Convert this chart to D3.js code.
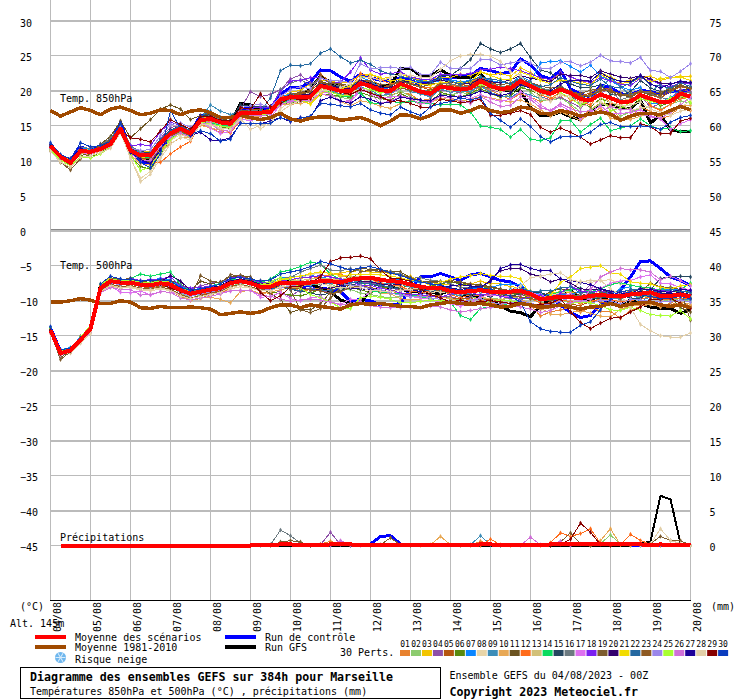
<!DOCTYPE html>
<html>
<head>
<meta charset="utf-8">
<script src="https://cdnjs.cloudflare.com/ajax/libs/d3/7.8.5/d3.min.js"></script>
<style>
body { margin: 0; background: white; }
text { font-family: "DejaVu Sans Mono", monospace; font-size: 10px; fill: black; }
</style>
</head>
<body>
<svg id="drawing"></svg>
<script>
const dates = ["04/08","05/08","06/08","07/08","08/08","09/08","10/08","11/08","12/08","13/08","14/08","15/08","16/08","17/08","18/08","19/08","20/08"];
const ticksC = [30,25,20,15,10,5,0,-5,-10,-15,-20,-25,-30,-35,-40,-45];
const ticksMm = [75,70,65,60,55,50,45,40,35,30,25,20,15,10,5,0];
const numeros = ["01","02","03","04","05","06","07","08","09","10","11","12","13","14","15","16","17","18","19","20","21","22","23","24","25","26","27","28","29","30"];
const couleurs = ["#e8822f","#8ccb6e","#f2c500","#8e50a8","#b55610","#5a8a0e","#0a86ff","#e8d5a8","#3c8db8","#e8a855","#6b5320","#ff6b1a","#d2c078","#0adb5f","#24465f","#6c7a80","#de70f0","#7a1ff0","#7d5c2e","#33006e","#f2dc00","#2468a0","#8e5a22","#9b86ea","#a8ff32","#d070d8","#1c0099","#e2cfa8","#860000","#0a3cbe"];

// 850 hPa
const moy850 = [12.1,10.6,9.7,11.4,11.3,11.7,12.4,14.6,11.5,10.8,10.8,12.6,13.9,14.6,13.9,15.8,16,15.5,15.3,16.9,16.9,16.9,17,18.8,19.1,19.1,19.2,20.7,20.4,20,20,21.1,20.7,20.1,20,21,20.5,19.9,19.6,20.6,20.4,20.2,20.4,21.4,20.7,20.3,20.4,21.4,20.7,20,19.6,20.2,19.7,18.8,18.7,19.5,19,18.4,18.5,19.4,18.9,18.4,18.5,19.6,19.2];
const clim850 = [17.2,16.4,17,17.6,17.2,16.6,17.4,17.7,17.2,16.6,16.8,17.3,17.2,16.6,17.1,17.3,16.9,16.2,16.2,16.5,16.2,15.9,16.2,16.8,16,15.7,16.1,16.3,16.3,15.8,16,16.2,15.7,15,15.7,16.6,16.5,16,16.5,17.3,17.3,16.8,17.2,17.8,17.2,16.9,17.1,17.7,17.5,16.8,16.7,17.2,16.9,16.4,16.7,17,16.7,15.8,16.4,16.8,16.8,16.6,17.2,17.8,17.3];
const ctrl850 = [12.4,10.3,10,12,11.5,12,12.7,15.5,11.5,10,9.5,11.5,13.5,15,14,16.5,16.7,16,15.5,17.5,17.5,17.3,17.5,19.5,20.5,20.5,21.3,23,22.9,22,21.4,22.4,21.9,21.5,21.4,21.9,21.5,21,21.3,21.9,21.8,22.1,22.2,23.2,22.9,22.5,22.7,24.6,23.7,22.2,21.7,23,20.3,19.6,19.1,20.8,20.5,19.6,19.4,20.1,19.9,19.5,19.9,20,20.1];
const gfs850 = [12,10.2,9.8,11.5,11.2,11.6,12.5,14.9,11.2,10.3,10.2,12.5,14,14.8,14,16,16.2,15.6,15.4,18.2,18,17.2,17,18.5,19.2,19.5,20.2,22.2,21.2,20.8,20.6,21.5,21,20.8,20.8,23.2,23.2,22.2,22.2,23,22.2,21.9,21.9,22.5,20.5,20.2,20,20,17.7,16.5,16.5,17,16.3,15.9,17,18.1,18,17.6,17.5,18.7,15.4,16.6,14.4,14.2,14.2];
const t850_p01 = [11.8,10.4,9.9,11.2,11,11.5,12.2,14.4,11,10.2,10,11.6,12.9,13.8,13.3,15.2,14.8,14,14,16,16.5,16.5,16.9,18.4,18.7,19,18.9,20.1,20,19.6,19.4,21.2,21.9,20.6,19.4,19.8,19.5,18.6,18.9,20.5,20.6,20.2,19.6,20.6,20.1,19.4,18.8,19.6,19.1,18.5,18.8,19.3,18,16.2,17.3,18.3,17.9,15.9,16,17.7,17.1,16,16.5,17.8,17.2];
const t850_p02 = [12,10.5,9.6,11.6,11.2,11.7,12.3,14.5,11.3,10.4,10.5,12,13.2,14.2,13.5,15.5,15.7,15,14.9,16.7,17,17,17.2,18.2,18.3,18.5,18.4,19.5,19.3,19.1,18.8,20.1,19.8,19.4,19.2,20,19.2,18.5,18.2,19.5,19.4,19.8,19.5,20.3,19.6,19.1,19.5,20.9,19.8,18.7,18.6,19,18.1,17,17.2,18.2,17.7,16.4,17,17.5,17.8,17.4,18.1,18.6,18.2];
const t850_p03 = [12.2,10.7,10,11.8,11.5,12,12.5,14.7,11.8,11.3,11.3,13,14.2,14.9,14.1,16.1,16.3,15.8,15.4,17.1,17.2,17,17.1,19,19.8,20.1,21,21.5,21.4,21.1,21.3,22.3,22.3,21.8,21.9,22.4,21.9,21.5,21.6,22,21.9,22.4,22.2,22.8,22.3,22.5,22.1,23.3,22.6,21.7,21.3,22.6,22,21.4,20.9,22.4,21.5,21.1,21.2,21.9,22.1,21.5,21.9,22.1,22.1];
const t850_p04 = [11.9,10.5,9.9,11.3,11.1,11.6,12.3,14.6,11.7,11.2,11.1,13.2,14.8,15,14.2,16.2,16,15.7,15.2,17.4,19.9,19.2,19.5,20.2,21.7,22.3,21.1,21.4,20.6,20.2,20.6,21,20.4,19.8,19.6,20.4,20.1,19.6,19.3,20.1,19.9,19.8,20.1,20.8,20.2,19.8,20.2,20.9,20.4,19.2,18.7,19.1,18.4,17.6,18.6,19.6,20.5,18.4,18.9,19.4,17.6,18.2,18.9,20.2,19.9];
const t850_p05 = [12,10.4,9.5,11.2,11.2,11.9,12.6,15,11.8,11,10.9,12.8,14.3,14.7,13.8,15.9,16.3,15.8,15.4,17.5,17.4,17.3,17.2,19.2,19.5,19.7,19.8,22.4,21.3,20.9,20.5,21.6,21.2,20.5,20.7,21.3,21,20.6,20.1,21.2,20.8,20.6,20.9,21.6,21,20.4,20.9,21.8,21.2,20.1,19.8,20.5,20,19.3,19.7,20.5,20.2,19.4,19.5,20,19.4,19,19.9,20.6,20.4];
const t850_p06 = [11.7,10.1,9.5,11.1,10.6,11.2,12,14.2,10.6,9.2,8.8,11,13,14.1,13.2,15.4,15.5,14.9,14.5,16.4,16.5,16.4,16.6,18.1,18.2,18.5,18.9,19.4,19.5,19.2,19.1,19.8,19.3,18.9,18.7,19.6,19,18.7,18.4,19.8,19.4,19.1,19.7,20.3,19.7,19.1,19.3,20.5,20.1,19.4,19,19.6,19.2,18.2,17.7,18.9,18.4,17.6,17.5,18.8,18.6,17.9,18.3,19.1,19];
const t850_p07 = [12.3,10.8,10.2,11.9,11.6,12,12.8,15,11.8,11.1,10.9,13,14.1,14.6,13.9,16,16.1,15.6,15.2,17.1,17,17,17.3,19.1,19.6,19.2,19.1,21,20.5,20.4,20.2,22,21.4,20.5,20.2,20.8,21.1,21.5,21.2,21.4,21.6,21.3,21.5,22,21.5,21.2,21.1,22.1,21.4,24,24.2,24.3,23.5,22.7,23.7,22.1,21.5,20.6,20.1,20.5,18.2,18.3,19.1,19.7,18.9];
const t850_p08 = [11.5,9.9,9,10.6,10.4,11,11.9,14.1,10.3,7.5,8.5,10.7,12.9,13.8,13.2,15.3,15.1,14.6,14,16,15.9,14.6,15.4,17.5,18.4,19.1,19.8,20.6,20.6,20.1,19.6,20.5,20.1,19.8,20,20.9,20.4,19.9,20,21.5,20.7,20.4,20.1,21.2,20.3,19.9,20.3,21,20.6,20.1,18.9,19.6,19.2,17.8,18.1,18.5,17.5,18.2,17.2,17.6,17.8,17.2,16.9,17.6,18.6];
const t850_p09 = [12,10.6,9.8,11.4,11.1,11.6,12.4,14.5,11.4,10.6,10.7,12.7,13.8,14.4,13.5,16.1,18,17.1,16.6,17.1,16.9,16.9,17,18.5,18.6,18.9,19.4,20.9,20.1,19.5,19.7,20.6,20.1,19.3,19.6,20.7,19.9,19.6,19.1,20.3,19.8,20,19.9,20.7,19.8,19.3,19.1,19.9,19.4,18.9,19.5,20.3,19.6,18,18.9,20.1,22,20.6,19.4,19.7,19.8,21,20,19.6,19.5];
const t850_p10 = [11.6,10.2,9.7,11.1,10.9,11.4,12.1,14.3,10.9,9.6,9.4,11.3,12.5,13.3,13.4,15.1,14.7,14.4,14.2,16.3,16.4,16.4,16.7,18,18.1,18.2,18.5,19.6,19.2,18.5,17.9,18.6,18.3,17.8,17.5,18.2,18.7,18.1,18.4,18.9,18.8,18.5,18.8,19.2,19,18.7,18.4,18.7,18.1,17.3,16.4,17,16.4,15.8,16.7,17.6,16.1,15.8,15.9,16.4,16.8,16.3,17.2,18,17.9];
const t850_p11 = [11.5,9.8,9,10.7,11.2,12.4,13.5,15.7,13.3,14.6,15.9,17.4,18,17.4,15.9,16.5,16.7,16.1,15.7,17,17,16.8,17.1,18.9,19.2,19.5,19.9,21.4,20.9,20.4,20.2,21.1,20.5,20,19.9,20.8,20.3,20,19.5,20.6,20.2,20.2,20.7,21.6,20.9,20.6,20.7,21.8,21,20.4,19.9,20.6,20,19,19.3,20,20.1,19.5,19.1,19.9,19.4,19.5,20.5,19.8,20.6];
const t850_p12 = [12.1,10.5,9.8,11.4,11.2,11.8,12.5,14.7,11.2,10.5,9.8,9.8,11,12,12.8,15.4,15.6,14.2,14,15.8,16.2,16.8,17.2,19.1,19.3,19.5,19.4,20.8,20.5,20.1,20.5,22.5,22,21.6,21,21.4,21.2,20.6,20.4,20.5,20.8,20.7,21.3,21.9,21.3,20.5,20.5,21.2,20.7,19.5,18.9,19.9,18.7,18.5,18,19.9,18.2,18.1,18.6,19.8,17.9,17.2,18.1,18.9,19.1];
const t850_p13 = [12,10.7,9.9,11.5,11.3,11.9,12.4,14.6,11.4,10.7,10.9,12.9,14.3,14.8,14,16,16.2,15.4,15.1,16.9,16.8,17,17.1,18.7,19,19.2,19.5,20.3,20.2,19.9,19.6,20.9,20.5,20.3,20,20.8,20.6,20.1,19.8,20.7,20.1,20.2,20.3,21,20.7,20.2,20.5,21.2,20.4,19.6,19.4,20,19.4,18.6,19,19.5,19.1,18.5,18.9,19.2,19,18.6,18.8,19.2,19.5];
const t850_p14 = [11.9,10.5,9.7,11.3,11.1,11.7,12.4,14.5,11.2,10.3,10.6,12.1,13.3,14,13.6,15.6,15.4,15.1,15,16.6,16.7,16.6,16.8,18.3,18.6,18.8,18.8,20,19.9,19.3,19.2,19.7,18.3,18.2,18.5,18.3,18.5,18.3,18.2,18,18.1,18,17,15,14.8,14.5,13.4,14.5,13.1,12.9,13.3,15.7,15.8,14.1,15.2,16.1,14.3,14.7,15,16,15,14.5,14.7,14.2,14.3];
const t850_p15 = [12.2,10.7,10.1,11.6,11.4,12,12.8,15,11.8,11.3,11.2,13.1,14.4,15,14.2,16.4,16.6,16.1,16,18,17.8,17.7,17.8,18.5,19,19.4,19.5,21.2,20.8,20.6,20.6,21.3,20.8,20.3,20.6,21.7,21,20.8,21.1,22.2,22.2,23.2,24.5,26.8,26,25.5,26,26.8,24.8,23,22.6,21.5,21,20.5,20.5,20.9,19.5,19.4,19.9,21.5,20.4,19.9,20.1,20.8,20.5];
const t850_p16 = [12.3,10.8,10.2,11.9,11.8,12.3,13.2,15.2,12.2,11.2,10.8,12.4,14.1,14.7,14.1,16.2,16.5,15.9,15.7,17.1,17.2,17.1,17.4,20.2,21.1,21.6,20.8,21.9,21.2,20.6,20.3,21.4,20.9,20.3,20.1,21,20.6,20.1,20,21,21,20.7,20.6,21.7,21,20.6,20.6,21.9,21.1,20.4,20.1,20.8,19.8,19.2,19.4,20.3,19.9,18.7,19.2,20.1,19.6,19.1,18.7,19.8,19.7];
const t850_p17 = [11.8,10.3,9.6,11.2,11,11.5,12.1,14.2,11,10.1,10.1,12,13.7,14.4,13.8,15.5,14.7,13.9,14.2,15.9,15.8,16,16.2,18,18.6,18.7,18.6,19.7,19.2,18.5,18.4,20.1,19.7,19,19.1,19.3,19,18.6,18.3,19.4,19.2,19.3,18.9,19.5,18.9,18.5,18.8,19.9,19.1,18,17.1,17.9,17.1,16,16.9,17.9,16.8,16.8,16.9,17.3,16.5,16,14.5,15.3,15.9];
const t850_p18 = [12.1,10.6,9.9,11.4,11.3,11.8,12.5,14.8,12.2,12.3,12.2,14.2,15.5,15.1,14.2,16,16.2,15.8,15.5,17,17.5,17.7,17.7,19.9,21.4,21.5,21.9,22,21,21.3,22.7,24.7,23,22.4,22.5,22.7,22,21.7,21.6,22.4,22.3,22.3,22.5,23,23.1,23.4,23.2,22.9,22.4,21.9,21.6,22.6,22,21.5,21.2,21.9,21.4,21,20.8,21.8,21.6,20.9,20.6,21.2,21];
const t850_p19 = [11.4,9.8,8.7,10.3,11,12.2,13,14.9,11.3,10.2,9.8,11.9,13.5,14.3,13.6,15.9,16.2,15.5,15.3,17.2,17.1,17.1,17.4,18.8,19.5,19.8,20.2,22.1,21,21,20.7,21.6,21.4,20.9,20.8,21.4,21,20.5,21,21.1,21.3,20.9,21.2,21.7,21.1,20.9,21.1,21.8,21.2,20.7,20.4,20.5,19.9,19.6,20.1,20.3,19.9,19.3,19.6,19.8,19.6,19.8,20.4,20.9,20.4];
const t850_p20 = [12,10.6,9.8,11.5,11.3,11.8,12.5,14.7,11.6,10.7,10.6,12.8,14.4,14.9,13.9,16.1,16.1,15.6,15.4,16.8,16.9,17,17.1,18.9,19.4,19.4,19.6,20.9,20.8,20.4,20.3,21.6,21,20.6,20.4,21.2,21.4,21,21.2,21.6,21.2,21.2,21,21.8,21.3,21.2,21.6,22.2,21.8,21.6,21.3,22.4,22.2,22.2,21.9,22.9,22.4,22,21.8,22.2,21.7,21.1,21,21.3,21.2];
const t850_p21 = [12.2,10.7,10.1,11.7,11.5,11.9,12.6,14.8,11.4,10.5,10.3,12.2,13.7,14.6,14,15.9,16,15.4,15.3,17,17.1,17.1,17.3,18.8,19,18.7,18.1,19.6,20.4,20.3,20.7,21.9,22.4,21.9,21.4,21.7,21.4,21,20.8,21.2,21.3,21.2,21.3,22.7,22.2,21.7,21.6,22.7,22.2,21.5,21,21.6,21.4,21.1,20.7,22.6,22,21.3,21.5,22,21.3,21.8,21.9,22,21.5];
const t850_p22 = [12.1,10.6,9.9,11.5,11.4,11.9,12.6,14.8,11.7,11,11.1,13,14.3,15,14.3,16.4,17.1,16.2,16,17,17.1,17.1,19,22.9,23.7,23.6,23.9,25.4,26,24.9,24,24.4,23.8,22.9,22.4,22.1,21.8,21.4,21.3,21.8,21.4,21,21.5,22,21.7,21.5,21,21.7,21.1,20.6,20.9,21.9,21.4,20.9,20.8,21.7,20.6,20.5,21.1,22.1,20.9,20.7,20.4,21.2,20.6];
const t850_p23 = [11.9,10.4,9.7,11.2,11.2,11.7,12.3,14.4,11.1,10.4,10.4,12.3,13.6,14.2,13.6,15.7,15.9,15.3,15.2,16.8,16.7,16.7,16.9,18.6,19.3,19.6,20,21.3,20.7,20.2,20,21.1,20.3,19.9,20.2,20.4,20.1,19.8,20.1,20.9,20.7,20.3,20.4,20.7,20.4,20.2,20,21,20.5,20.1,19.7,20.2,19.9,19.2,19.5,20,20,19.6,19.2,19.9,19.9,19.3,20.1,20.7,20.3];
const t850_p24 = [12.1,10.7,10,11.6,11.4,11.8,12.5,14.7,11.8,11.5,11.6,13.6,15.2,15.4,14.8,15.9,15.9,15.2,15.5,17.6,17.9,18.1,17.7,19.2,20.2,20.6,20.3,21.8,21.5,21.4,21.2,23.9,23.2,23.3,23.4,23.2,23.4,22.3,22.3,24.1,23.2,23.2,23.2,24.5,24.5,23.7,24,24.3,24,23.2,23.2,24.1,24.2,23.6,24.1,25.1,24.3,24.2,24,24.8,22.9,22.8,21.9,22.8,23.9];
const t850_p25 = [11.6,10.1,9.3,10.6,10.4,11,12,14.3,10.9,8.6,9.2,11.2,13.1,14,13.3,15.5,15.3,15,14.7,16.4,16.6,16.6,16.8,18.2,18.4,18.9,19,20,19.8,19.4,19.4,20.4,20.2,19.7,19.8,20.6,20.4,20,19.9,20.5,20.3,20.1,20.4,20.9,20.6,20.1,20.5,21.3,20.9,20.2,19.6,19.8,18.9,18,18.7,19.3,17.1,17.6,18.3,18.9,18.5,18.2,19,19.5,18.3];
const t850_p26 = [11.8,10.3,9.8,11.3,11.1,11.6,12.2,14.4,11.3,10,10.1,12.1,13.4,14,13.4,15.3,15.5,14.2,14.5,16.3,16.4,16.5,16.6,18.1,18.4,18.6,18.8,20,19.6,18.5,18.6,20.5,19.6,18.2,18.6,19.1,18.9,18.1,18.5,19.2,19,18.6,18.2,19.2,18.4,17.8,17.9,19.2,18.8,17.6,17.2,18.2,17.5,17,17.2,17,17.8,17.3,17.4,16.7,16.3,16.1,16.9,18,19.1];
const t850_p27 = [12.3,10.7,10.3,11.8,11.3,11.8,12.3,14.4,11.2,10.2,9.6,11.6,14,14.5,13.6,14.1,13,12.9,13.3,15.4,15.3,15.3,15.7,16.2,15.6,16.2,16.2,18.6,19.1,18.6,18.2,19.2,18.8,18.2,18.4,19.1,18.9,18.7,18.6,19.4,19.2,19.1,19.4,20,19.6,19.3,19.7,20.9,20.4,19.9,20,21,21.5,21.5,21.4,22.6,21.8,21.4,21.3,22.2,21,20.4,21,21.4,21.2];
const t850_p28 = [11.4,9.8,9.1,10.5,10.7,11.2,11.8,14,10.5,7,8.1,10.4,12.4,13.4,13,15.3,15.2,14.7,14.5,16,14.5,15.1,15.4,17,18,18.7,18.8,20,20,20.5,21,21.8,22,21.5,21.9,22.4,22.2,22,21.9,23.1,24.3,25,25.2,25.2,25,24.2,22.7,22.2,20.5,19,18.5,19.4,19,18.3,18.9,19.1,18.4,17.9,18,18.4,17.4,16.9,16.5,17.1,17.4];
const t850_p29 = [12,10.5,9.9,11.4,11.3,11.7,12.4,14.5,13.3,13.1,12.7,14.3,15.9,15.2,14.5,16.3,16.4,15.8,15.7,17.6,17.4,19.6,17.7,18.2,19,18.7,18.9,20.6,20.2,19.8,19.5,20.2,19.7,19.2,18.5,18.6,18.2,17.7,17.7,18.8,18.6,18.3,18.5,18.8,16.5,16.5,16.8,17.2,16.6,14.8,14.1,14.7,14.1,13.4,12.4,13,13.6,13.3,13.3,15.3,14.9,13.9,13.9,15.7,16.1];
const t850_p30 = [12.6,10.9,10.3,12.6,12,12.2,12.8,15.4,11.9,9.8,9,11,17.2,14.6,13.8,14.3,13.9,12.8,13.1,15.4,15.3,15.3,15.4,16.2,15.7,16.1,16.4,18.2,18.1,17.9,17.7,18.2,17.3,16.8,16.6,17.7,17,16.5,17.7,18.2,18.5,19,18.7,19.1,16.8,15.8,14.8,16,14.9,13.5,12.7,13.4,13.5,13.5,14.1,15.2,15.5,14.9,14.9,15,14.9,14.5,15.5,16.2,16.5];

// 500 hPa
const moy500 = [-14.2,-17.5,-17.1,-15.6,-14,-8.2,-7.2,-7.4,-7.4,-7.7,-7.8,-7.5,-7.7,-8.5,-9,-8.7,-8.4,-8.2,-7.5,-7.2,-7.5,-8,-8,-7.4,-7.4,-7.4,-7.4,-7.2,-7.2,-7.4,-7,-6.8,-6.7,-7,-7.2,-7.3,-7.7,-8,-8.2,-8.2,-8.6,-8.8,-8.6,-8.5,-8.7,-8.7,-8.7,-8.6,-9,-9.8,-9.6,-9.4,-9.5,-9.6,-9.3,-9.2,-9.3,-9.4,-9.1,-9,-8.8,-9.3,-9.3,-9.1,-9.4];
const clim500 = [-10.2,-10.2,-10,-9.7,-9.9,-10.4,-10.4,-10,-10.2,-11,-11.1,-10.8,-11,-11,-10.9,-11,-11.2,-12,-11.8,-11.6,-11.8,-11.6,-11,-10.6,-10.6,-11,-10.6,-10.8,-11,-11.2,-10.6,-10.4,-10.5,-10.4,-10.6,-10.8,-10.8,-11,-10.6,-10.4,-10.2,-10.4,-10.5,-10.4,-10.6,-10.9,-10.8,-10.4,-10.6,-10.9,-10.8,-10.6,-10.9,-11.2,-10.9,-10.8,-10.4,-10.8,-10.5,-10.3,-10.2,-10.6,-10.8,-10.6,-11];
const ctrl500 = [-13.9,-17.2,-17,-15.5,-14,-8,-7.1,-7.3,-7.3,-7.6,-7.7,-7.4,-7.6,-8.3,-8.8,-8.5,-8.2,-8,-7.3,-7,-7.3,-7.9,-7.8,-7.3,-7.8,-8,-7.8,-8.2,-8.4,-8.7,-10.1,-9.8,-10,-10.6,-10.6,-10.4,-8.2,-6.6,-6.6,-6.1,-6.6,-7.1,-6.3,-6.1,-6.6,-7.1,-7.3,-8,-9,-9.4,-9.4,-10.6,-11.7,-12.4,-12.1,-10.6,-9.9,-8.5,-6.6,-4.4,-4.3,-5.4,-6.6,-7.1,-7.8];
const gfs500 = [-14.1,-17.4,-17.2,-15.8,-14.2,-7.8,-7,-7.2,-7.1,-7.5,-7.6,-7.3,-7.5,-8.2,-8.7,-8.4,-8.2,-8,-7.2,-7,-7.3,-7.8,-7.8,-7.2,-7.2,-7.4,-7.6,-8.2,-8.7,-9.9,-10.4,-10.4,-8.5,-8.2,-8,-8.4,-8.6,-8.8,-8.8,-9,-8.5,-9.2,-9.4,-9.6,-10,-10.7,-11.5,-11.7,-12.3,-10.6,-9.9,-9.2,-8.5,-9.9,-9.8,-9.4,-10.1,-10.6,-9.9,-10.4,-10.9,-11.1,-11.1,-11.8,-11.3];
const t500_p01 = [-14.6,-17.8,-17.4,-16,-14.6,-8.6,-7.8,-7.9,-7.9,-8.3,-8.3,-8,-8.6,-9.4,-9.9,-9.7,-9.1,-8.9,-8.2,-7.6,-8,-8.7,-9,-8.6,-7.8,-8.7,-8.4,-8.2,-8.4,-7.5,-7.2,-6.9,-7.1,-7.8,-8.6,-9,-9,-9.4,-9.7,-9.5,-9.5,-10,-9.8,-9.9,-10.3,-10.5,-10.8,-9.9,-10.6,-12.2,-11.6,-11.3,-11,-11.6,-10.9,-11.5,-11.5,-12.5,-11.4,-10.8,-10.5,-10.9,-10.3,-10.4,-10.7];
const t500_p02 = [-14.3,-17.5,-17,-15.3,-14.1,-8.3,-7.3,-7.6,-7.6,-8,-8.1,-7.7,-8,-8.9,-9.6,-9.2,-8.9,-8.6,-7.9,-7.6,-8,-8.5,-8.3,-7.8,-7.7,-7.8,-7.7,-7.6,-7.6,-8.2,-8.4,-8.9,-9.1,-9.4,-9.6,-9.4,-9.1,-9.2,-9.4,-9.4,-9.6,-9.9,-9.4,-9.8,-9.6,-9.8,-9.7,-9.4,-9.8,-10.2,-10.6,-9.9,-10.3,-10.1,-10.4,-9.5,-9.6,-9.8,-9.2,-9.4,-9.5,-9.8,-10.1,-9.6,-10.2];
const t500_p03 = [-14.5,-17.7,-17.2,-15.4,-14,-7.7,-6.7,-7,-7.1,-7.3,-7.4,-7.1,-7.3,-8.1,-8.7,-8.4,-8.1,-7.9,-7.3,-6.9,-7.1,-7.5,-7.5,-7,-7,-6.8,-6.6,-6.4,-6.3,-6,-5.8,-5.7,-5.9,-5.9,-6.1,-6.4,-6.5,-7.3,-7.4,-7.6,-7.7,-7.9,-7.6,-7.2,-7.6,-7.6,-8,-8.1,-8.6,-9.2,-8.9,-8.7,-8.8,-8.9,-8.8,-8.7,-9,-9.1,-8.6,-8.9,-8.8,-8.9,-9,-8.9,-9.1];
const t500_p04 = [-14,-17.3,-16.9,-15.2,-13.9,-8.3,-7.5,-7.5,-7.3,-7.7,-7.9,-7.6,-7.5,-8,-8.4,-7.9,-7.5,-7.3,-6.8,-6.7,-6.9,-7.4,-8.2,-8.8,-9.4,-8.4,-8.2,-8.5,-8.9,-8.8,-8,-7.3,-7.5,-7.7,-8.1,-8.6,-8.5,-8.8,-9.2,-9.4,-9.4,-9.8,-9.4,-9.1,-9.1,-9.3,-9.7,-9.3,-8.9,-9.6,-9.4,-8.9,-9.1,-9.3,-7.6,-8.7,-8.8,-8.6,-9.1,-9.2,-9.4,-9.6,-9.5,-9.3,-9.6];
const t500_p05 = [-14.2,-17.6,-17.3,-15.8,-14.3,-8.5,-7.4,-7.7,-7.6,-8,-8.1,-7.9,-8.1,-8.8,-9.3,-9.1,-8.8,-8.6,-7.9,-7.7,-8,-8.4,-8.5,-8,-7.9,-7.8,-7.6,-7.5,-7.5,-7.7,-7.9,-8.2,-8.5,-8.8,-9,-9,-9,-9.2,-9.2,-9.3,-9.8,-9.6,-9.7,-9.9,-9.8,-10.1,-10.4,-10.2,-10.8,-11.2,-11,-10.6,-10.5,-10.7,-10.1,-10.2,-10.3,-10.7,-10.4,-10.3,-10.5,-10.8,-10.6,-10.4,-10.9];
const t500_p06 = [-14.1,-17.4,-17,-15.4,-13.8,-8,-7.2,-7.3,-7.4,-7.6,-7.7,-7.3,-7.4,-8.2,-8.9,-8.5,-8.2,-8,-7.5,-7.1,-7.5,-8.2,-8.7,-9,-9.2,-9.3,-8.9,-8.4,-8.1,-7.9,-8.2,-8.4,-8.9,-8.2,-8,-8.1,-7.9,-8.2,-7.9,-7.6,-7.3,-7.6,-7.9,-7.9,-8.3,-8.7,-9,-9.1,-9.6,-9.5,-9.4,-9.3,-9.2,-9.4,-9,-8.9,-9.1,-9.3,-9,-8.7,-8.6,-8.5,-8.7,-8.6,-8.8];
const t500_p07 = [-14,-17,-16.7,-15.2,-13.6,-7.8,-7,-7,-7,-7.2,-7.1,-6.8,-7,-8,-8.6,-8.2,-7.9,-7.5,-6.9,-6.6,-6.9,-7.3,-7.4,-6.7,-6.6,-6.5,-6.4,-6.6,-6.9,-7,-6.6,-6.8,-7.2,-7.3,-7.1,-6.9,-7.2,-7.4,-7.5,-7.9,-8.2,-8.6,-8.2,-8.4,-8.1,-7.7,-7.6,-7.7,-8.7,-9.1,-9.2,-9.2,-9,-8.8,-8.9,-9,-9.1,-8.3,-8,-10.5,-8.9,-8.2,-8.5,-8.3,-8.7];
const t500_p08 = [-14.7,-17.7,-17.5,-15.9,-14.7,-8.8,-8,-8.2,-8.1,-8.5,-8.6,-8.3,-8.6,-9.3,-9.8,-9.7,-9.3,-9.1,-8.3,-8,-8.2,-8.6,-8.5,-7.8,-7.7,-6.7,-6.3,-6,-6,-6.5,-6.7,-7,-7.1,-7.4,-7.7,-8.1,-8.5,-8.7,-8.9,-8.6,-8.8,-9.2,-8.9,-8.7,-8.8,-9.2,-9.1,-8.9,-9.5,-9.7,-9.2,-8.9,-8.6,-7.2,-7.4,-7.1,-7,-7.6,-7.7,-8.1,-8.4,-8.8,-9,-9,-9.4];
const t500_p09 = [-13.8,-17.2,-16.9,-15.6,-14.1,-8.2,-7.2,-7.4,-7.4,-7.7,-7.9,-7.5,-7.8,-8.6,-9.1,-8.8,-8.5,-8.4,-7.6,-7.4,-7.6,-8.1,-8.1,-7.6,-7.4,-7.7,-7.8,-7.4,-7.5,-7.6,-7.4,-7.2,-7.3,-7.5,-7.6,-7.6,-8.1,-8.3,-8.5,-8.6,-9,-9.3,-8.8,-8.6,-8.7,-8.5,-8.6,-8.5,-9.3,-9.8,-9.4,-9.2,-9.3,-9.7,-9.5,-9.4,-9.6,-9.8,-9.2,-9.6,-9.8,-9.7,-9.5,-9.8,-9.9];
const t500_p10 = [-14.5,-17.6,-17.4,-15.9,-14.4,-8.7,-7.9,-8.1,-7.9,-8.2,-8.3,-8.1,-8.4,-9.2,-10,-9.6,-9.5,-9.8,-10.3,-8.7,-8.5,-9,-8.8,-8.4,-8.2,-8,-7.5,-7,-7,-6.5,-6.7,-7.2,-8.3,-8.9,-9,-9.7,-9.9,-9.8,-9.2,-9.5,-9.7,-10.1,-9.9,-9.5,-9.7,-9.9,-9.4,-9.8,-10.4,-11,-11.9,-12,-11.7,-11.4,-11.8,-12.2,-12.3,-11.2,-10.8,-10.6,-10.5,-10.9,-10.7,-10.2,-10.5];
const t500_p11 = [-14.1,-18.1,-17.2,-15.3,-13.8,-8,-6.7,-7.1,-6.8,-7.2,-7.4,-7,-7.1,-7.6,-8.5,-7.2,-7.6,-7.3,-6.6,-6.4,-6.6,-8,-9,-9.8,-11.7,-11.2,-11.3,-10.4,-8.8,-7.8,-5.9,-5.4,-5.5,-5.6,-5.8,-5.9,-6.7,-7.2,-7.2,-7.3,-7.3,-7.4,-7.7,-7.7,-8,-8.3,-8.9,-9,-9.2,-9.4,-8.7,-8.3,-8.5,-9.3,-8.9,-9,-9.1,-9.3,-8.7,-9.1,-9.3,-9.6,-9.4,-11,-11.6];
const t500_p12 = [-14.2,-17.4,-17,-15.6,-14,-8.1,-7.1,-7.3,-7.3,-7.6,-7.8,-7.5,-7.6,-8.6,-9.2,-9,-8.8,-8.4,-7.8,-7.2,-7.6,-8.1,-8.1,-7.6,-7.7,-7.6,-6.9,-6.5,-6.3,-6.2,-6.8,-6.7,-6.9,-7.5,-7.8,-7.9,-8.6,-8.8,-8.7,-8.4,-9.1,-9.6,-9.1,-9.3,-8.9,-9,-8.9,-8.8,-9.6,-10.4,-10.3,-9.9,-10.1,-10.4,-10.1,-9.8,-9.9,-10.1,-10,-9.7,-9.5,-9.9,-9.8,-9.6,-9.7];
const t500_p13 = [-14.3,-17.6,-17.1,-15.7,-14.1,-8.3,-7.3,-7.5,-7.5,-7.8,-7.8,-7.6,-7.9,-8.6,-9.2,-8.9,-8.5,-8.3,-7.6,-7.3,-7.6,-8,-7.9,-7.3,-7.2,-7.1,-6.9,-6.8,-6.9,-7,-6.6,-6.6,-6.7,-6.9,-7.1,-7.6,-7.9,-8.1,-8.3,-8.4,-8.7,-8.8,-8.6,-8.7,-8.5,-8.6,-8.8,-8.7,-8.9,-9.5,-9.6,-9.4,-9.5,-9.4,-9.1,-9.2,-9.4,-9.6,-9.2,-9,-9.2,-9.3,-9.1,-9.2,-9.5];
const t500_p14 = [-13.9,-17.2,-16.8,-15.3,-13.8,-7.9,-7,-7,-6.8,-6.2,-6.5,-6.2,-5.9,-7.7,-8.6,-8.3,-8,-7.5,-7,-6.9,-7.2,-7.4,-6.9,-5.9,-5.6,-5.1,-4.5,-4.7,-6.2,-6.9,-7.1,-7.1,-8.6,-8.8,-8.9,-9,-9.2,-9.4,-9.8,-10.1,-10.2,-12.1,-12.7,-11.1,-10.9,-10.8,-10.3,-9.8,-9.6,-9.6,-9.1,-8.7,-8.5,-8.2,-8.7,-8.3,-7.7,-7.4,-7.8,-8,-8.2,-8.5,-8.1,-8.4,-7.5];
const t500_p15 = [-14.3,-17.5,-17.2,-15.6,-14,-8.3,-7.4,-7.3,-7.5,-7.9,-8,-7.7,-7.9,-8.7,-9.3,-8.9,-8.4,-8.5,-7.4,-7,-7.4,-7.9,-8.2,-8,-8.4,-8.6,-8.9,-9.2,-8.9,-8.6,-7.7,-7.5,-7.6,-8,-7.9,-8.3,-8.4,-8.3,-8.6,-8.8,-8.9,-9,-9.1,-9.2,-9.4,-9.1,-9.4,-9,-8.9,-8.8,-9.4,-9.3,-9.2,-9.7,-9.8,-9.6,-9.4,-9.2,-9.6,-9.7,-8.5,-6.8,-6.6,-6.5,-6.6];
const t500_p16 = [-14.1,-17.3,-17,-15.4,-14,-8,-7,-7.1,-7.2,-7.4,-7.5,-7.2,-7.4,-8.2,-8.8,-8.4,-8.1,-7.9,-7.3,-6.9,-7,-7.1,-7.2,-6.8,-6.7,-5.9,-5.4,-4.9,-5.6,-5.7,-5.4,-5.8,-5.7,-5.8,-5.9,-6.2,-6.8,-6.7,-7.1,-7.2,-7.6,-8.1,-8.2,-8.1,-8.4,-8.6,-8.7,-8.4,-9.4,-10,-9.6,-9.7,-9.4,-9.6,-9.7,-9.4,-9.5,-9.7,-9.3,-9.2,-9.3,-9.5,-9.4,-9.3,-9.7];
const t500_p17 = [-14.4,-17.7,-17.3,-15.8,-14.4,-8.6,-7.9,-8.8,-8.9,-8.6,-9.2,-8.7,-8.8,-9.1,-9.6,-9.3,-9,-8.9,-8.6,-8.6,-8.5,-9.5,-9.4,-8.8,-9.7,-10,-9.6,-9.4,-10.2,-10.5,-9.8,-9.8,-8.7,-8.1,-8.6,-8.9,-9.4,-9.6,-9.8,-10.2,-10.4,-10.8,-10.3,-9.4,-9.2,-9.3,-9.4,-9.3,-8.8,-9.2,-9.6,-9.4,-9,-10.1,-9.8,-8.2,-7.5,-7.2,-7.1,-6.6,-6.3,-7.5,-7.6,-8.1,-8.5];
const t500_p18 = [-14.2,-17.5,-17,-15.5,-14,-8.2,-7.2,-7.2,-6.8,-7.1,-7,-6.9,-6.6,-7.9,-8.2,-8.1,-7.9,-8,-6.8,-6.5,-6.9,-7.4,-7.5,-7.1,-7,-6.7,-6.6,-6.4,-6.6,-6.9,-7.2,-7.8,-7.8,-8.2,-8.5,-8.9,-9.2,-9.1,-9.4,-9.5,-9,-8.9,-8.8,-9.2,-8.9,-9.4,-9.6,-9.8,-9.4,-9.2,-9.9,-8.9,-7.9,-8.6,-8.8,-8.5,-9.1,-9.4,-8.5,-8.3,-8.4,-8.5,-8.7,-8.4,-8.5];
const t500_p19 = [-14.5,-18.4,-17.3,-15.1,-13.8,-7.9,-6.7,-7,-6.8,-7.4,-7.5,-7.2,-7.4,-8.3,-9.4,-6.4,-7.2,-7.4,-6.3,-6.4,-6.9,-8.1,-8.1,-7.9,-8.4,-11.3,-11.7,-11.1,-9.6,-8.2,-6.9,-5.9,-5.6,-5.8,-6,-6.4,-6.7,-7.2,-7.4,-7.3,-7.1,-7.3,-7.6,-7.9,-8.1,-8.4,-8.5,-8.9,-9.3,-9.8,-10,-9.7,-9.3,-9.4,-9.4,-8.8,-8.7,-8.8,-8.4,-8.7,-7.5,-8,-8.1,-8.4,-12.8];
const t500_p20 = [-14.1,-17.4,-17,-15.5,-14,-8,-7.1,-7.3,-7.2,-7.5,-7.6,-7.3,-6.4,-7.2,-8.5,-8.4,-8.1,-7.9,-7.2,-6.9,-7.2,-7.6,-7.6,-7.2,-7.6,-8.1,-8.5,-8.3,-8.2,-7.9,-7.4,-7.3,-7.3,-7.6,-7.8,-7.6,-7.4,-7.9,-8.1,-7.9,-8.2,-8.4,-8.1,-8.1,-7.1,-5.7,-5.4,-5.4,-6.2,-6.5,-7.3,-6.9,-7.5,-8.3,-8.4,-8.3,-8.9,-9.3,-8.9,-8.7,-8.6,-8.9,-9,-8.8,-9.1];
const t500_p21 = [-14.4,-17.6,-17.1,-15.2,-13.7,-7.9,-7.1,-7.3,-7.3,-7.6,-7.7,-7.4,-7.5,-8.4,-9.1,-8.7,-8.4,-8.2,-7.4,-7.1,-7.4,-7.8,-7.6,-7,-6.7,-6.5,-6.1,-5.9,-6.1,-6.4,-6.3,-6.3,-6.2,-6.3,-6.5,-6.7,-7.1,-7.2,-7.8,-7.4,-6.9,-6.6,-6.4,-6.1,-6.4,-6.5,-6.5,-6.9,-9.2,-9.6,-9.3,-7.4,-6.6,-5.4,-5.2,-5,-6,-6.2,-7.3,-7.5,-7.6,-8.1,-8.3,-7.9,-7.7];
const t500_p22 = [-13.9,-17.3,-17,-15.4,-14,-8.2,-7.3,-7.5,-7.4,-7.8,-8,-7.6,-7.8,-8.6,-9,-8.6,-8.3,-8.2,-7.5,-7.3,-7.5,-8.1,-8.4,-8,-8.3,-8.6,-8.3,-8.6,-8.5,-8.2,-7.4,-7.5,-7.6,-7.8,-8.1,-8.4,-8.3,-8.5,-8.6,-8.5,-8.4,-8.6,-8.4,-8.8,-8.9,-8.8,-8.4,-8.1,-8.7,-8.6,-8.6,-8.2,-8,-8.9,-8.8,-9,-8.6,-8.8,-8.4,-8.3,-8.6,-8.8,-8.4,-8.7,-8.8];
const t500_p23 = [-14.3,-17.6,-17.3,-15.8,-14.2,-8.5,-7.6,-8,-7.8,-8.2,-8.3,-8.1,-8.3,-9.1,-9.6,-9.3,-8.9,-8.7,-8,-7.7,-8,-8.4,-8.2,-8,-8.2,-8.3,-8.5,-8.6,-9,-8.7,-8.1,-7.9,-8.1,-8.5,-8.7,-8.4,-8.3,-8.4,-8.2,-8.7,-8.8,-8.7,-8.6,-8.4,-8.6,-9.1,-9.3,-9.5,-9.7,-9.9,-9.7,-9.6,-9.4,-9.7,-9.4,-9.5,-9.3,-9.6,-9.1,-9,-9.1,-9.4,-9.6,-9.3,-9.7];
const t500_p24 = [-14.2,-17.4,-17.1,-15.6,-14.2,-8.4,-7.5,-7.7,-7.6,-7.9,-8,-7.8,-8,-8.8,-9.4,-9,-8.7,-8.5,-7.7,-7.4,-7.7,-8.2,-8.5,-8.1,-7.9,-7.7,-7.3,-7,-7.1,-7.5,-7.8,-7.9,-8.3,-8.4,-8.9,-9.2,-9.5,-9.3,-9.6,-9.8,-10,-10.2,-9.9,-9.7,-10.2,-10.5,-10.3,-10,-10.4,-10.6,-10.6,-10,-9.6,-9.7,-10.4,-9.9,-10,-10.5,-9.8,-9.9,-10.1,-10.2,-10.1,-9.9,-10.2];
const t500_p25 = [-14,-17.2,-16.9,-15.2,-13.5,-7.6,-6.9,-7.1,-7.1,-7.3,-7.4,-7.2,-7.4,-8.3,-8.9,-8.5,-8.2,-8,-7.4,-7.2,-7.4,-7.7,-7.3,-6.7,-7.1,-8.2,-9.1,-9.6,-10.2,-11,-11.1,-9.6,-9.4,-9.5,-9.8,-10.3,-10.3,-10.1,-9.9,-10,-10.1,-10.3,-10.2,-10.4,-10.1,-10,-10,-10.3,-10.5,-10.6,-10.7,-10.6,-10.4,-10.2,-10.3,-10.7,-11.3,-11.4,-10.9,-11.4,-12,-12.1,-12.2,-11.4,-12.6];
const t500_p26 = [-14.6,-17.8,-17.3,-15.8,-14.5,-8.9,-8.1,-8.4,-8.4,-9.2,-9.1,-8.7,-8.8,-9.6,-9.9,-9.6,-9.4,-9,-8.6,-8.5,-8.5,-9.2,-9.4,-9.7,-10.1,-9.9,-9.8,-9.9,-10.2,-10.6,-10.4,-10.1,-10.7,-10.9,-11,-11,-11,-11,-10.8,-10.9,-11.3,-11.6,-11.4,-11.1,-11,-10.8,-10.6,-10.9,-11.2,-11.7,-11.4,-10.7,-10.3,-10,-8.4,-6.6,-5.9,-5.4,-5.6,-5.6,-5.9,-7,-6.5,-7.1,-7.9];
const t500_p27 = [-14.3,-17.5,-17.1,-15.6,-14.1,-8.3,-7.4,-7.6,-7.5,-7.8,-7.9,-7.6,-7.8,-8.5,-9,-8.8,-8.4,-8.2,-7.5,-7.2,-7.5,-8,-8.2,-7.7,-7.4,-7.3,-7.4,-7.6,-7.3,-7.8,-8.2,-8.3,-8.4,-8.6,-8.7,-8.5,-8.4,-8.7,-8.2,-8.1,-7.9,-7.7,-7.9,-8,-7.3,-5.4,-4.9,-4.8,-5.4,-5.7,-5.7,-6.9,-7.1,-7.4,-7.7,-8.3,-8.6,-8.9,-9,-8.3,-8.4,-8.7,-8.8,-8.4,-8.5];
const t500_p28 = [-14.5,-17.7,-17.4,-16.1,-14.7,-8.7,-7.8,-8.1,-8,-8.3,-8.4,-8.2,-8.5,-9.3,-9.7,-9.4,-9.1,-8.8,-8.1,-7.8,-8.1,-8.6,-8.6,-8,-7.8,-7.5,-7.5,-7.5,-7.9,-8.2,-8,-8.1,-8.6,-8.6,-8.7,-8.5,-8.4,-8.1,-8.5,-8.8,-8.7,-8.6,-8.4,-8.6,-8.9,-8.8,-8.6,-7.9,-6.7,-6.5,-6.2,-6,-7,-7.3,-7.1,-7.1,-8.3,-9.2,-11,-13.4,-14.3,-15,-15.2,-15.2,-14.6];
const t500_p29 = [-14.2,-17.6,-17.2,-15.6,-14,-8.2,-7.4,-7.4,-7.2,-7.8,-7.8,-7.6,-8.2,-8.7,-9,-8.9,-8.6,-8.4,-7.3,-7.1,-7.2,-8.8,-10,-9.3,-8,-7.9,-7.4,-6.6,-4.4,-3.9,-3.8,-3.6,-4,-5.6,-6.8,-6.9,-7.2,-8.3,-9.1,-9.6,-10.2,-9.9,-10.3,-10.1,-10,-10.2,-10.4,-10.2,-10.8,-10.5,-10.4,-9.7,-11.6,-13.1,-14,-13.2,-12.5,-12.4,-11.6,-10.9,-9.8,-9.8,-9.6,-10.4,-11.1];
const t500_p30 = [-13.7,-17,-16.8,-15.3,-13.9,-7.6,-6.5,-6.9,-6.9,-7.2,-7.1,-7,-7.2,-8.1,-8.5,-8.3,-8,-7.6,-6.8,-6.7,-6.9,-7.2,-7,-6.2,-5.9,-5.6,-5.1,-4.4,-4.7,-5.2,-5.6,-5.3,-5.1,-5.5,-6,-6.4,-6.9,-7.3,-7.6,-7.7,-8.3,-8.6,-8.2,-8.1,-8.4,-8.7,-9.4,-10.2,-13,-14,-14.4,-14.5,-14.5,-13.5,-13,-11.3,-9.8,-8.6,-8.9,-9.2,-9.4,-9.7,-9.6,-9.4,-9.7];

// precipitations : [echeance, mm], zero ailleurs
const pluie_p01 = [[27,0.2],[28,0.6],[29,0.2],[43,0.6],[44,0.2]];
const pluie_p02 = [[55,0.3],[56,1.5],[57,0.2]];
const pluie_p04 = [[27,0.1],[28,1.9],[29,0.1]];
const pluie_p09 = [[42,0.1],[43,1.4],[44,0.1]];
const pluie_p10 = [[38,0.1],[39,1.3],[40,0.1],[55,0.7],[56,2.4],[57,0.1]];
const pluie_p12 = [[44,0.9],[45,0.1],[50,0.4],[51,1.8],[52,1.3],[53,1.7],[54,2.4],[55,0.3],[57,0.1],[58,1.6],[59,0.7],[60,0.2]];
const pluie_p16 = [[22,0.1],[23,2.2],[24,1.4],[25,0.3]];
const pluie_p19 = [[23,0.5],[24,0.7],[25,0.5],[33,0.1],[34,1.1],[35,0.1],[51,0.5],[52,1.8],[53,0.2],[60,0.3],[61,1.3],[62,0.7],[63,0.7]];
const pluie_p26 = [[29,0.7],[30,0.1],[48,1.2],[49,0.1],[50,0.2],[51,0.6]];
const pluie_p28 = [[60,0.2],[61,2.4],[62,0.7],[63,0.3]];
const pluie_p29 = [[51,0.1],[52,0.9],[53,3.2],[54,1.9],[55,0.1]];
const pluie_ctrl = [[32,0.2],[33,1.3],[34,1.4],[35,0.2]];
const pluie_gfs = [[59,0.2],[60,0.6],[61,7.1],[62,6.6],[63,0.3]];
const pluie_moy = [[21,0.1],[22,0.1],[23,0.15],[24,0.15],[25,0.1],[27,0.1],[28,0.15],[29,0.15],[30,0.15],[31,0.1],[33,0.1],[34,0.1],[35,0.05],[37,0.1],[39,0.1],[40,0.1],[41,0.1],[42,0.1],[43,0.15],[44,0.15],[45,0.1],[46,0.1],[47,0.1],[48,0.1],[49,0.1],[50,0.15],[51,0.15],[52,0.15],[53,0.25],[54,0.25],[55,0.2],[56,0.25],[57,0.15],[58,0.15],[59,0.15],[60,0.1],[61,0.15],[62,0.1],[63,0.05]];

const t850 = [t850_p01,t850_p02,t850_p03,t850_p04,t850_p05,t850_p06,t850_p07,t850_p08,t850_p09,t850_p10,t850_p11,t850_p12,t850_p13,t850_p14,t850_p15,t850_p16,t850_p17,t850_p18,t850_p19,t850_p20,t850_p21,t850_p22,t850_p23,t850_p24,t850_p25,t850_p26,t850_p27,t850_p28,t850_p29,t850_p30];
const t500 = [t500_p01,t500_p02,t500_p03,t500_p04,t500_p05,t500_p06,t500_p07,t500_p08,t500_p09,t500_p10,t500_p11,t500_p12,t500_p13,t500_p14,t500_p15,t500_p16,t500_p17,t500_p18,t500_p19,t500_p20,t500_p21,t500_p22,t500_p23,t500_p24,t500_p25,t500_p26,t500_p27,t500_p28,t500_p29,t500_p30];
const pluies = [[pluie_p01,0],[pluie_p02,1],[pluie_p04,3],[pluie_p09,8],[pluie_p10,9],[pluie_p12,11],[pluie_p16,15],[pluie_p19,18],[pluie_p26,25],[pluie_p28,27],[pluie_p29,28]];

const svg = d3.select("#drawing")
    .attr("width", 740)
    .attr("height", 700);

const x = d3.scaleLinear().domain([0, 64]).range([50.5, 690.5]);
const y = d3.scaleLinear().domain([30, -45]).range([21, 545.5]);
const yMm = d3.scaleLinear().domain([75, 0]).range([21, 545.5]);

const line = d3.line()
    .defined(d => d != null)
    .x((d, i) => x(i))
    .y(d => y(d));
const lineMm = d3.line()
    .defined(d => d != null)
    .x((d, i) => x(i))
    .y(d => yMm(d));

// grille horizontale et graduations
const axeG = svg.append("g")
    .attr("transform", "translate(50,0)")
    .call(d3.axisLeft(y).offset(0).tickValues(ticksC).tickSize(-640).tickPadding(0));
axeG.select(".domain").remove();
axeG.selectAll("line")
    .attr("stroke", "#bbb")
    .attr("stroke-width", d => d % 10 == 0 ? 2 : 1)
    .attr("shape-rendering", "crispEdges");
axeG.selectAll("text")
    .attr("text-anchor", "start")
    .attr("x", -30)
    .attr("dy", "5.5");

const axeD = svg.append("g")
    .attr("transform", "translate(690,0)")
    .call(d3.axisRight(yMm).offset(0).tickValues(ticksMm).tickSize(0).tickPadding(0));
axeD.select(".domain").remove();
axeD.selectAll("text")
    .attr("x", 19.5)
    .attr("dy", "5.5");

// double trait du zero
svg.append("line")
    .attr("x1", 50).attr("x2", 691)
    .attr("y1", 229.5).attr("y2", 229.5)
    .attr("stroke", "#888")
    .attr("shape-rendering", "crispEdges");
svg.append("line")
    .attr("x1", 50).attr("x2", 691)
    .attr("y1", 231).attr("y2", 231)
    .attr("stroke", "#bbb")
    .attr("stroke-width", 2)
    .attr("shape-rendering", "crispEdges");

// grille verticale et dates
const axeX = svg.append("g")
    .attr("transform", "translate(0,600)")
    .call(d3.axisBottom(x)
        .offset(0)
        .tickValues(d3.range(0, 65, 4))
        .tickFormat(d => dates[d / 4])
        .tickSize(-600)
        .tickPadding(0));
axeX.select(".domain")
    .attr("stroke", "black")
    .attr("shape-rendering", "crispEdges")
    .attr("d", "M50,0.5H691");
axeX.selectAll("line")
    .attr("stroke", "#bbb")
    .attr("shape-rendering", "crispEdges");
axeX.selectAll("text")
    .attr("text-anchor", "start")
    .attr("transform", "translate(10.5,32) rotate(-90)")
    .attr("x", 0)
    .attr("y", 0)
    .attr("dy", 0);

function trace(g, valeurs, gen, couleur, largeur) {
    g.append("path")
        .datum(valeurs)
        .attr("d", gen)
        .attr("fill", "none")
        .attr("stroke", couleur)
        .attr("stroke-width", largeur)
        .attr("stroke-linejoin", "round")
        .attr("shape-rendering", "crispEdges");
}

function membre(g, valeurs, gen, echelle, couleur) {
    trace(g, valeurs, gen, couleur, 1);
    const pts = valeurs.map((v, i) => ({ v: v, i: i })).filter(p => p.v != null);
    g.append("g").selectAll("path")
        .data(pts)
        .join("path")
        .attr("d", d3.symbol(d3.symbolDiamond, 7))
        .attr("transform", p => "translate(" + x(p.i) + "," + echelle(p.v) + ")")
        .attr("fill", couleur);
}

function bloc(series, ctrl, gfs, clim, moy) {
    const g = svg.append("g");
    trace(g, ctrl, line, "#0000ff", 3);
    trace(g, gfs, line, "#000000", 3);
    series.forEach((s, i) => membre(g, s, line, y, couleurs[i]));
    trace(g, clim, line, "#a04a00", 3.5);
    trace(g, moy, line, "#ff0000", 4);
}

bloc(t850, ctrl850, gfs850, clim850, moy850);
bloc(t500, ctrl500, gfs500, clim500, moy500);

// precipitations
function deplie(paires) {
    const a = d3.range(65).map(i => i == 0 ? null : 0);
    paires.forEach(p => { a[p[0]] = p[1]; });
    return a;
}
const gp = svg.append("g");
trace(gp, deplie(pluie_ctrl), lineMm, "#0000ff", 3);
trace(gp, deplie(pluie_gfs), lineMm, "#000000", 2);
pluies.forEach(p => {
    const s = deplie(p[0]);
    membre(gp, s.map((v, i) => i > 0 && (v > 0 || s[i - 1] > 0 || s[i + 1] > 0) ? v : null), lineMm, yMm, couleurs[p[1]]);
});
trace(gp, deplie(pluie_moy), lineMm, "#ff0000", 4);

// textes du graphique
const textes = [
    ["Temp. 850hPa", 60, 102], ["Temp. 500hPa", 60, 269], ["Précipitations", 60, 540.5],
    ["(°C)", 20, 610], ["(mm)", 711, 610], ["Alt. 145m", 10, 627],
    ["Moyenne des scénarios", 75, 641], ["Moyenne 1981-2010", 75, 651], ["Risque neige", 75, 663],
    ["Run de contrôle", 265, 641], ["Run GFS", 265, 651], ["30 Perts.", 340, 656],
    ["Températures 850hPa et 500hPa (°C) , précipitations (mm)", 30, 695],
    ["Ensemble GEFS du 04/08/2023 - 00Z", 449.5, 679]
];
svg.append("g").selectAll("text")
    .data(textes)
    .join("text")
    .attr("x", d => d[1])
    .attr("y", d => d[2])
    .text(d => d[0]);

// legende
const traits = [["#ff0000", 35, 637], ["#a04a00", 35, 647], ["#0000ff", 225, 637], ["#000000", 225, 647]];
svg.append("g").selectAll("rect")
    .data(traits)
    .join("rect")
    .attr("x", d => d[1])
    .attr("y", d => d[2] - 2)
    .attr("width", 31)
    .attr("height", 4)
    .attr("fill", d => d[0]);

// flocon
const flocon = svg.append("g").attr("transform", "translate(60.5,657.5)");
flocon.append("circle").attr("r", 5.5).attr("fill", "#6fb7ee");
d3.range(3).forEach(i => {
    flocon.append("line")
        .attr("x1", -5).attr("x2", 5)
        .attr("transform", "rotate(" + (i * 60) + ")")
        .attr("stroke", "#d8ecfb");
});

// carres des perturbations
const carres = svg.append("g").selectAll("g")
    .data(numeros)
    .join("g")
    .attr("transform", (d, i) => "translate(" + (400 + i * 10.97) + ",650)");
carres.append("rect")
    .attr("width", 10)
    .attr("height", 6)
    .attr("fill", (d, i) => couleurs[i]);
carres.append("text")
    .attr("x", 5)
    .attr("y", -3)
    .attr("text-anchor", "middle")
    .style("font-size", "8px")
    .text(d => d);

// cadre du titre
svg.append("rect")
    .attr("x", 20.5).attr("y", 667.5)
    .attr("width", 420).attr("height", 31)
    .attr("fill", "none")
    .attr("stroke", "black")
    .attr("shape-rendering", "crispEdges");
svg.append("text")
    .attr("x", 30).attr("y", 681)
    .style("font-size", "11.6px").style("font-weight", "bold")
    .text("Diagramme des ensembles GEFS sur 384h pour Marseille");
svg.append("text")
    .attr("x", 449.5).attr("y", 696)
    .style("font-size", "11.6px").style("font-weight", "bold")
    .text("Copyright 2023 Meteociel.fr");
</script>
</body>
</html>
